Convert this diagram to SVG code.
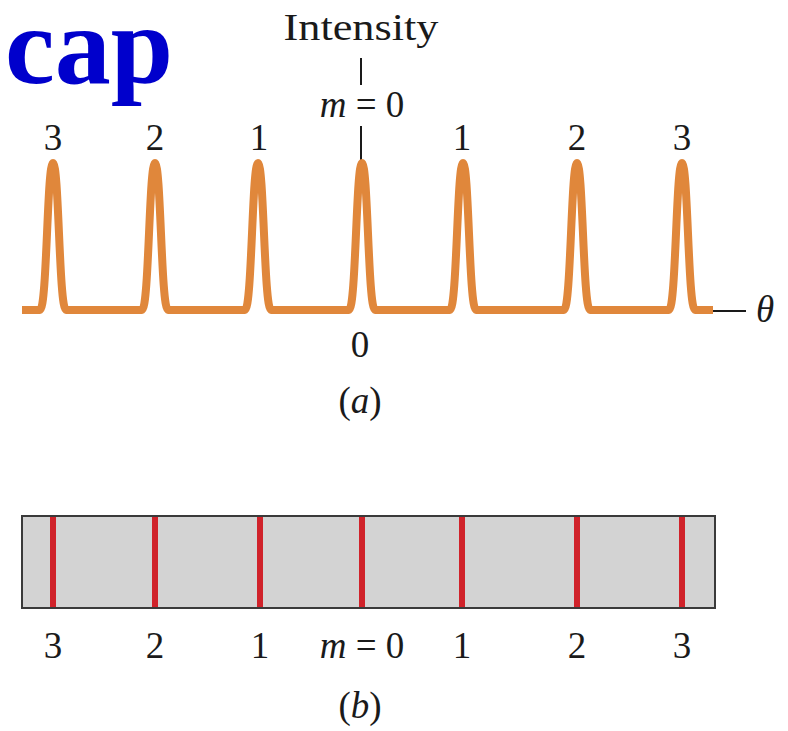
<svg xmlns="http://www.w3.org/2000/svg" width="788" height="731" viewBox="0 0 788 731">
<style>
.t{font-family:"Liberation Serif","Times New Roman",serif;font-size:37px;fill:#1a1a1a;text-anchor:middle}
.i{font-style:italic}
.peak{fill:none;stroke:#E0873B;stroke-width:8;stroke-linejoin:round;stroke-linecap:butt}
.ln{stroke:#1a1a1a;stroke-width:2;fill:none}
.red{stroke:#D0222A;stroke-width:6}
</style>
<rect width="788" height="731" fill="#ffffff"/>
<text x="5" y="83" font-family="Liberation Serif,Times New Roman,serif" font-weight="bold" font-size="110" fill="#0000CC" textLength="168" lengthAdjust="spacingAndGlyphs">cap</text>
<g id="graph-a">
<text class="t" x="361" y="40" textLength="155" lengthAdjust="spacingAndGlyphs">Intensity</text>
<line class="ln" x1="361" y1="58" x2="361" y2="85"/>
<text class="t" x="362" y="117"><tspan class="i">m</tspan> = 0</text>
<line class="ln" x1="361" y1="126" x2="361" y2="165"/>
<g id="top-labels">
<text class="t" x="53" y="150">3</text>
<text class="t" x="155" y="150">2</text>
<text class="t" x="259" y="150">1</text>
<text class="t" x="462" y="150">1</text>
<text class="t" x="577" y="150">2</text>
<text class="t" x="682" y="150">3</text>
</g>
<path class="peak" d="M22,310 L40,310 C47,310 47,163 53,163 C59,163 59,310 66,310 L142,310 C149,310 149,163 155,163 C161,163 161,310 168,310 L245,310 C252,310 252,163 258,163 C264,163 264,310 271,310 L349,310 C356,310 356,163 362,163 C368,163 368,310 375,310 L450,310 C457,310 457,163 463,163 C469,163 469,310 476,310 L564,310 C571,310 571,163 577,163 C583,163 583,310 590,310 L669,310 C676,310 676,163 682,163 C688,163 688,310 695,310 L713,310"/>
<line class="ln" x1="713" y1="311" x2="746" y2="311"/>
<text class="t i" x="765" y="322">θ</text>
<text class="t" x="360" y="357">0</text>
<text class="t" x="360" y="413">(<tspan class="i">a</tspan>)</text>
</g>
<g id="graph-b">
<rect x="22" y="516" width="693" height="92" fill="#D3D3D3" stroke="#3a3a3a" stroke-width="2"/>
<g id="fringes">
<line class="red" x1="53" y1="517" x2="53" y2="607"/>
<line class="red" x1="155" y1="517" x2="155" y2="607"/>
<line class="red" x1="260" y1="517" x2="260" y2="607"/>
<line class="red" x1="362" y1="517" x2="362" y2="607"/>
<line class="red" x1="462" y1="517" x2="462" y2="607"/>
<line class="red" x1="577" y1="517" x2="577" y2="607"/>
<line class="red" x1="682" y1="517" x2="682" y2="607"/>
</g>
<text class="t" x="53" y="658">3</text>
<text class="t" x="155" y="658">2</text>
<text class="t" x="260" y="658">1</text>
<text class="t" x="362" y="658"><tspan class="i">m</tspan> = 0</text>
<text class="t" x="462" y="658">1</text>
<text class="t" x="577" y="658">2</text>
<text class="t" x="682" y="658">3</text>
<text class="t" x="360" y="718">(<tspan class="i">b</tspan>)</text>
</g>
</svg>
